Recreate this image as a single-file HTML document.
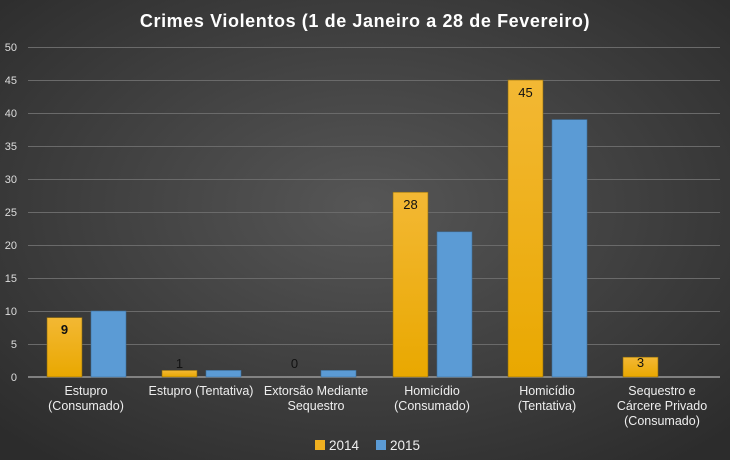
<!DOCTYPE html>
<html><head><meta charset="utf-8"><style>
body{margin:0;width:730px;height:460px;overflow:hidden}
svg{display:block}
text{font-family:"Liberation Sans",Arial,sans-serif}
</style></head><body>
<svg width="730" height="460" xmlns="http://www.w3.org/2000/svg">
<defs>
<radialGradient id="bg" cx="50%" cy="45%" r="70%">
<stop offset="0" stop-color="#565656"/><stop offset="1" stop-color="#2c2c2c"/>
</radialGradient>
<linearGradient id="y" x1="0" y1="0" x2="0" y2="1"><stop offset="0" stop-color="#f3b834"/><stop offset="1" stop-color="#e9a800"/></linearGradient>
</defs>
<rect width="730" height="460" fill="url(#bg)"/>
<text x="365" y="27" text-anchor="middle" fill="#fff" font-size="18" font-weight="bold" letter-spacing="0.6">Crimes Violentos (1 de Janeiro a 28 de Fevereiro)</text>
<g stroke="#6a6a6a" stroke-width="1">
<line x1="28" x2="720" y1="47.5" y2="47.5"/><line x1="28" x2="720" y1="80.5" y2="80.5"/>
<line x1="28" x2="720" y1="113.5" y2="113.5"/><line x1="28" x2="720" y1="146.5" y2="146.5"/>
<line x1="28" x2="720" y1="179.5" y2="179.5"/><line x1="28" x2="720" y1="212.5" y2="212.5"/>
<line x1="28" x2="720" y1="245.5" y2="245.5"/><line x1="28" x2="720" y1="278.5" y2="278.5"/>
<line x1="28" x2="720" y1="311.5" y2="311.5"/><line x1="28" x2="720" y1="344.5" y2="344.5"/>
</g>
<line x1="28" x2="720" y1="377" y2="377" stroke="#999" stroke-width="1.5"/>
<g fill="#ddd" font-size="11" text-anchor="end">
<text x="17" y="51">50</text><text x="17" y="84">45</text><text x="17" y="117">40</text><text x="17" y="150">35</text><text x="17" y="183">30</text><text x="17" y="216">25</text><text x="17" y="249">20</text><text x="17" y="282">15</text><text x="17" y="315">10</text><text x="17" y="348">5</text><text x="17" y="381">0</text>
</g>
<g fill="url(#y)" stroke="#8a6a10" stroke-width="0.6">
<rect x="47" y="317.6" width="35" height="59.4"/>
<rect x="162" y="370.4" width="35" height="6.6"/>
<rect x="393" y="192.2" width="35" height="184.8"/>
<rect x="508" y="80" width="35" height="297"/>
<rect x="623" y="357.2" width="35" height="19.8"/>
</g>
<g fill="#5b9bd5" stroke="#3d6f9c" stroke-width="0.6">
<rect x="91" y="311" width="35" height="66"/>
<rect x="206" y="370.4" width="35" height="6.6"/>
<rect x="321" y="370.4" width="35" height="6.6"/>
<rect x="437" y="231.8" width="35" height="145.2"/>
<rect x="552" y="119.6" width="35" height="257.4"/>
</g>
<g fill="#111" font-size="13" text-anchor="middle">
<text x="64.5" y="334" font-weight="bold">9</text>
<text x="179.5" y="368">1</text>
<text x="294.5" y="368">0</text>
<text x="410.5" y="209">28</text>
<text x="525.5" y="97">45</text>
<text x="640.5" y="367">3</text>
</g>
<g fill="#eee" font-size="12.5" text-anchor="middle">
<text x="86" y="395">Estupro</text><text x="86" y="410">(Consumado)</text>
<text x="201" y="395">Estupro (Tentativa)</text>
<text x="316" y="395">Extorsão Mediante</text><text x="316" y="410">Sequestro</text>
<text x="432" y="395">Homicídio</text><text x="432" y="410">(Consumado)</text>
<text x="547" y="395">Homicídio</text><text x="547" y="410">(Tentativa)</text>
<text x="662" y="395">Sequestro e</text><text x="662" y="410">Cárcere Privado</text><text x="662" y="425">(Consumado)</text>
</g>
<rect x="315" y="440" width="10" height="10" fill="#f0b020"/>
<text x="329" y="450" fill="#eee" font-size="13.5">2014</text>
<rect x="376" y="440" width="10" height="10" fill="#5b9bd5"/>
<text x="390" y="450" fill="#eee" font-size="13.5">2015</text>
</svg>
</body></html>
